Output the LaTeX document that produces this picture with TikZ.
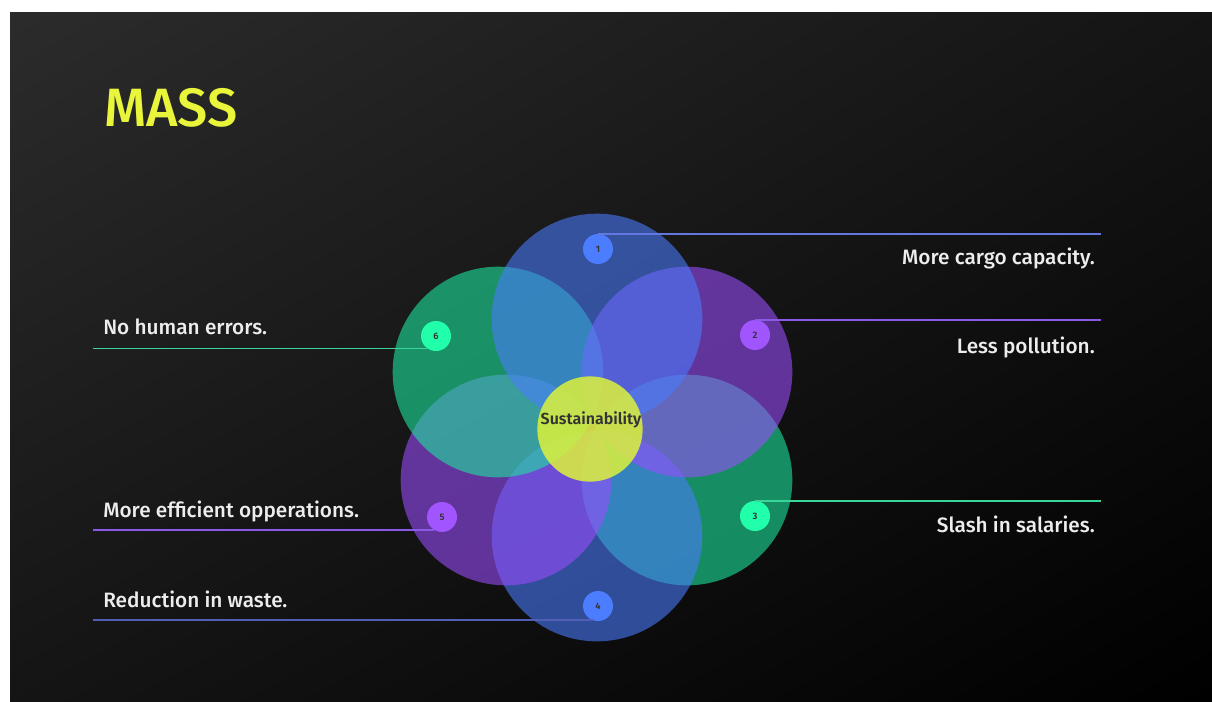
\documentclass[tikz,border=0pt]{standalone}
\usepackage{fontspec}
\setmainfont{Fira Sans}[UprightFont=* Medium, BoldFont=* SemiBold]
\usetikzlibrary{positioning,shadings}
\definecolor{titleyellow}{HTML}{E8F53A}
\definecolor{petalblue}{HTML}{4A7CFF}
\definecolor{petalpurple}{HTML}{9B4DFF}
\definecolor{petalgreen}{HTML}{1DE9A0}
\definecolor{coreyellow}{HTML}{DDF23A}
\definecolor{badgegreen}{HTML}{22FFAA}
\definecolor{badgepurple}{HTML}{A055FF}
\definecolor{badgeblue}{HTML}{4D7DFF}
\definecolor{textwhite}{HTML}{EDEDED}
\definecolor{lineblue}{HTML}{6477E0}
\definecolor{linepurple}{HTML}{8A5AE6}
\definecolor{linegreen}{HTML}{3AD699}

\tikzset{
	petal/.style={circle, minimum size=158pt, inner sep=0pt, fill opacity=0.58},
	badge/.style={circle, minimum size=22.5pt, inner sep=0pt, text=black!80, font=\fontsize{7}{7}\selectfont\bfseries},
	point/.style={inner sep=0pt, text=textwhite, font=\fontsize{15.6}{18}\selectfont},
	leader/.style={line width=1.4pt}
}

\begin{document}
\begin{tikzpicture}[x=0.75pt,y=-0.75pt]
	\useasboundingbox (0,0) rectangle (1212,701);
	\fill[white] (0,0) rectangle (1212,701);
	\shade[upper left=black!83, upper right=black!92, lower left=black!92, lower right=black] (10,12) rectangle (1212,701);

	% title
	\node[anchor=base west, inner sep=0pt, text=titleyellow, font=\fontsize{40.5}{42}\selectfont] (title) at (104,126) {MASS};

	% petals
	\node[petal, fill=petalgreen] (p3) at (687,480) {};
	\node[petal, fill=petalblue] (p4) at (597,536) {};
	\node[petal, fill=petalpurple] (p5) at (506,480) {};
	\node[petal, fill=petalgreen] (p6) at (498,372) {};
	\node[petal, fill=petalpurple] (p2) at (687,372) {};
	\node[petal, fill=petalblue] (p1) at (597,319) {};

	% centre
	\node[circle, minimum size=79pt, inner sep=0pt, fill=coreyellow, fill opacity=0.85] (core) at (590,429) {};
	\node[inner sep=0pt, text=black!80, font=\fontsize{12}{12}\selectfont\bfseries] (corelabel) at (591,420) {Sustainability};

	% badges
	\node[badge, fill=badgeblue] (b1) at (598,249) {1};
	\node[badge, fill=badgepurple] (b2) at (755,335) {2};
	\node[badge, fill=badgegreen] (b3) at (755,516) {3};
	\node[badge, fill=badgeblue] (b4) at (598,606) {4};
	\node[badge, fill=badgepurple] (b5) at (442,517) {5};
	\node[badge, fill=badgegreen] (b6) at (436,336) {6};

	% leader ends
	\coordinate (e1) at (1101,0);
	\coordinate (e2) at (1101,0);
	\coordinate (e3) at (1101,0);
	\coordinate (e4) at (93,0);
	\coordinate (e5) at (93,0);
	\coordinate (e6) at (93,0);

	\draw[leader, draw=lineblue] (b1.north) -- (b1.north -| e1);
	\draw[leader, draw=linepurple] (b2.north) -- (b2.north -| e2);
	\draw[leader, draw=linegreen] (b3.north) -- (b3.north -| e3);
	\draw[leader, draw=lineblue!80!black] (b4.250) -- (b4.250 -| e4);
	\draw[leader, draw=linepurple] (b5.240) -- (b5.240 -| e5);
	\draw[leader, draw=linegreen] (b6.235) -- (b6.235 -| e6);

	% texts
	\node[point, anchor=base east] (t1) at (1095,264) {More cargo capacity.};
	\node[point, anchor=base east] (t2) at (1095,353) {Less pollution.};
	\node[point, anchor=base east] (t3) at (1095,532) {Slash in salaries.};
	\node[point, anchor=base west] (t4) at (103,607) {Reduction in waste.};
	\node[point, anchor=base west] (t5) at (103,517) {More efficient opperations.};
	\node[point, anchor=base west] (t6) at (103,334) {No human errors.};
\end{tikzpicture}
\end{document}
